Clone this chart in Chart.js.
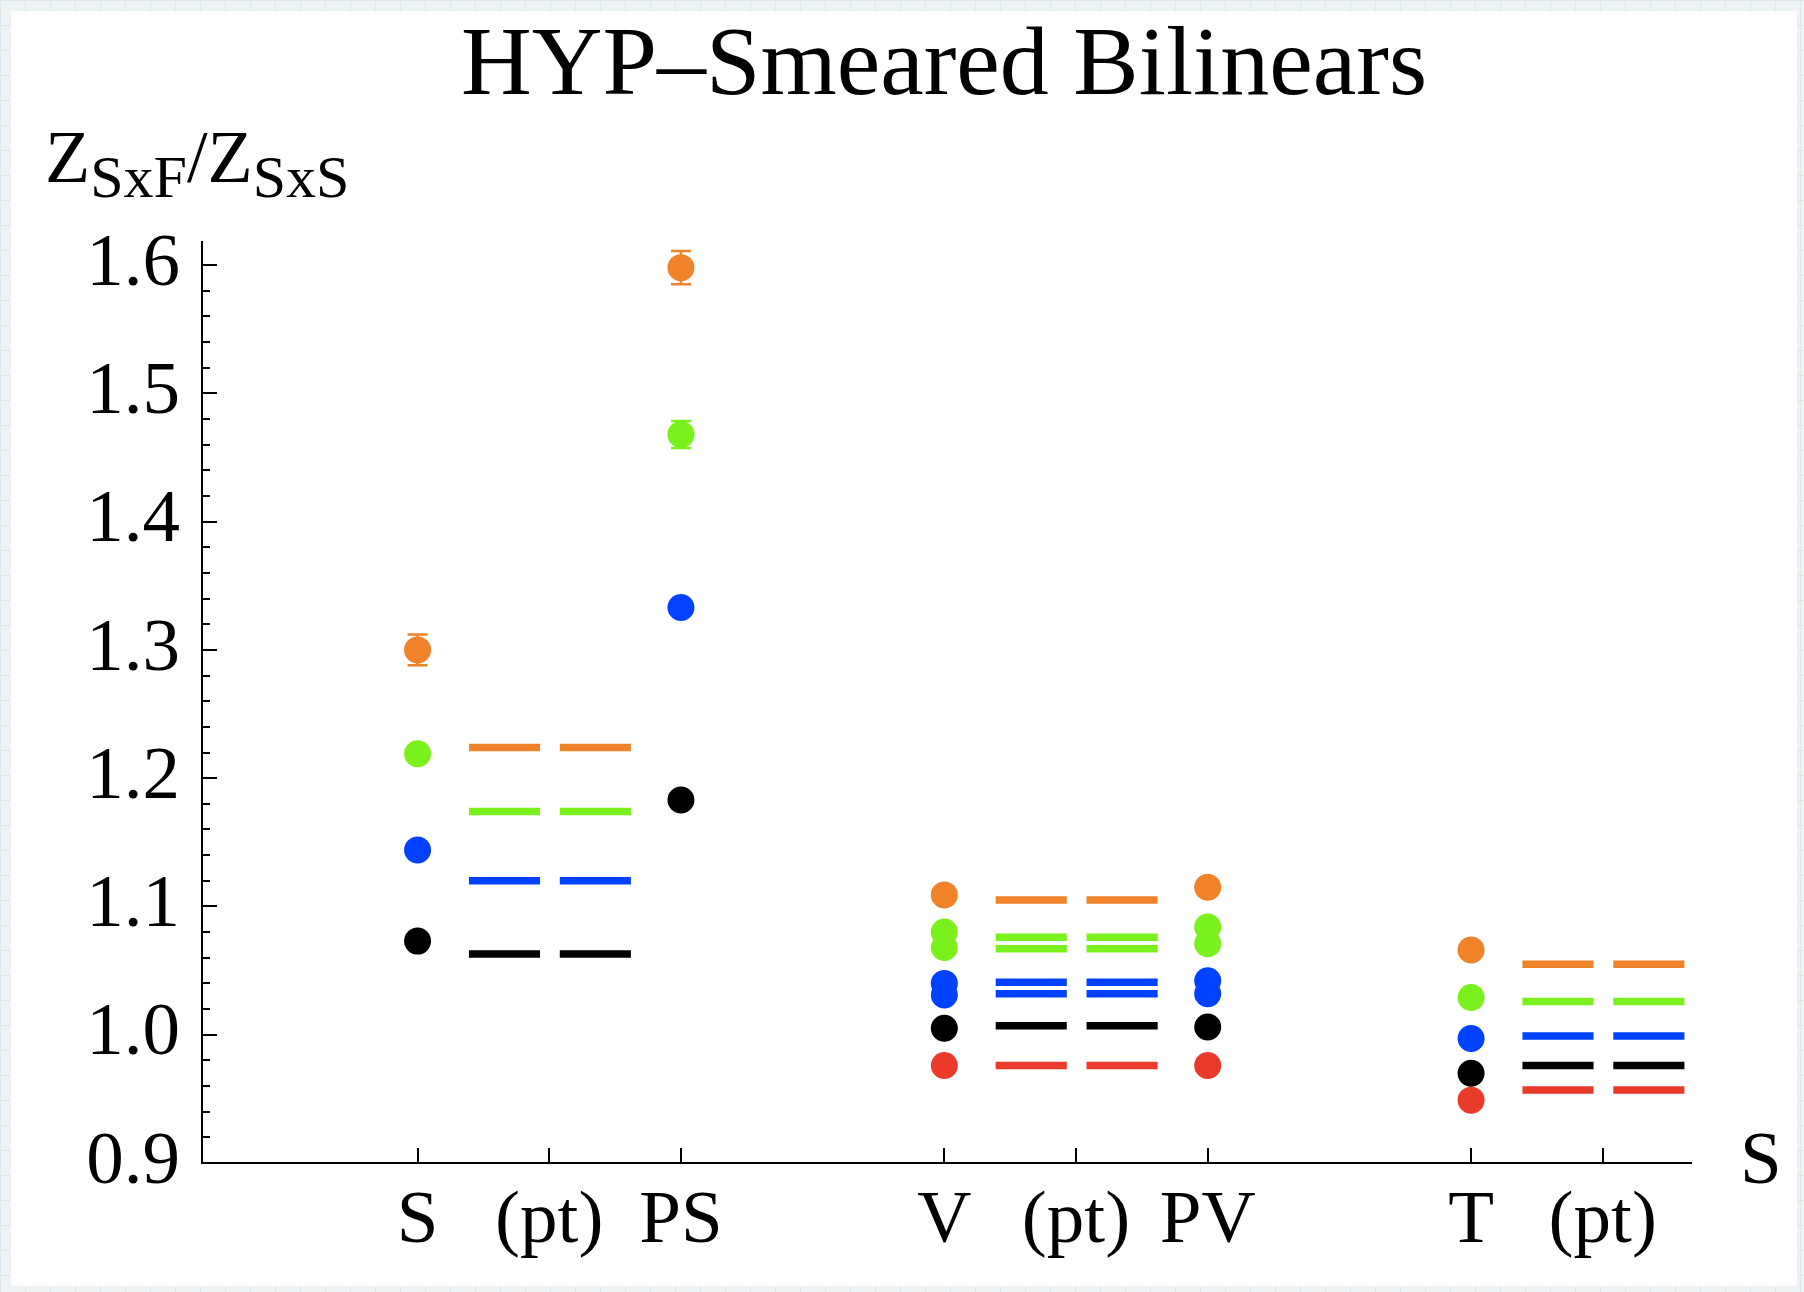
<!DOCTYPE html>
<html><head><meta charset="utf-8">
<script src="https://cdn.jsdelivr.net/npm/chart.js@4.4.1/dist/chart.umd.min.js"></script>
<style>
html,body{margin:0;padding:0;width:1804px;height:1292px;overflow:hidden;}
body{background-color:#eef3f4;background-image:linear-gradient(#dce8ec 1px,transparent 1px),linear-gradient(90deg,#dce8ec 1px,transparent 1px);background-size:25px 25px;position:relative;}
#paper{position:absolute;left:11px;top:11px;width:1786px;height:1275px;background:#fff;}
#wrap{position:absolute;left:0;top:0;width:1804px;height:1292px;}
</style></head><body>
<div id="paper"></div>
<div id="wrap"><canvas id="c" width="1804" height="1292"></canvas></div>
<script>
// ---- data ----
const categories = ['S', '(pt)', 'PS', '', 'V', '(pt)', 'PV', '', 'T', '(pt)'];
const tickPositions = [0, 1, 2, 4, 5, 6, 8, 9];
const yTickLabels = ['0.9', '1.0', '1.1', '1.2', '1.3', '1.4', '1.5', '1.6'];

// measured points (x = category index)
const orangeX = [0, 2, 4, 6, 8];
const orangeY = [1.300, 1.598, 1.109, 1.115, 1.066];
const orangeErr = [0.012, 0.013, 0, 0, 0];
const greenX = [0, 2, 4, 4, 6, 6, 8];
const greenY = [1.219, 1.468, 1.080, 1.068, 1.084, 1.071, 1.029];
const greenErr = [0, 0.0105, 0, 0, 0, 0, 0];
const blueX = [0, 2, 4, 4, 6, 6, 8];
const blueY = [1.144, 1.333, 1.040, 1.031, 1.042, 1.032, 0.997];
const blueErr = [0, 0, 0, 0, 0, 0, 0];
const blackX = [0, 2, 4, 6, 8];
const blackY = [1.073, 1.183, 1.005, 1.006, 0.970];
const blackErr = [0, 0, 0, 0, 0];
const redX = [4, 6, 8];
const redY = [0.976, 0.976, 0.949];
const redErr = [0, 0, 0];

// (pt) fit levels per group (groups start at S, V, T)
const fitGroups = [0, 4, 8];
const orangeFit = [[1.224], [1.105], [1.055]];
const greenFit = [[1.174], [1.076, 1.067], [1.026]];
const blueFit = [[1.120], [1.041, 1.032], [0.999]];
const blackFit = [[1.063], [1.007], [0.976]];
const redFit = [[], [0.976], [0.957]];

// ---- styling / geometry ----
const fitSpans = [[0.39, 0.93], [1.08, 1.62]];
const COLORS = {orange: '#F0822A', green: '#7AF01C', blue: '#0042FF', black: '#000000', red: '#EA3A2A'};
const FONT = '"Liberation Serif", "Times New Roman", serif';

function pts(xs, ys, errs) { return xs.map((x, i) => ({x: x, y: ys[i], err: errs[i]})); }
function fitData(levels) {
  const d = [];
  fitGroups.forEach((g, gi) => {
    levels[gi].forEach(v => {
      fitSpans.forEach(([a, b]) => {
        d.push({x: g + a, y: v}, {x: g + b, y: v}, {x: g + b, y: null});
      });
    });
  });
  return d;
}
function fitSet(levels, color) {
  return {data: fitData(levels), showLine: true, spanGaps: false, borderColor: color, borderWidth: 7.5,
          borderCapStyle: 'butt', pointRadius: 0, pointHoverRadius: 0, fill: false};
}
function pointSet(xs, ys, errs, color) {
  return {data: pts(xs, ys, errs), showLine: false, backgroundColor: color, borderColor: color,
          borderWidth: 0, pointRadius: 13.5, pointHoverRadius: 13.5, errColor: color};
}

const datasets = [
  fitSet(orangeFit, COLORS.orange), fitSet(greenFit, COLORS.green), fitSet(blueFit, COLORS.blue),
  fitSet(blackFit, COLORS.black), fitSet(redFit, COLORS.red),
  pointSet(orangeX, orangeY, orangeErr, COLORS.orange),
  pointSet(greenX, greenY, greenErr, COLORS.green),
  pointSet(blueX, blueY, blueErr, COLORS.blue),
  pointSet(blackX, blackY, blackErr, COLORS.black),
  pointSet(redX, redY, redErr, COLORS.red)
];

const decor = {
  id: 'decor',
  afterDatasetsDraw(chart) {
    const ctx = chart.ctx, xs = chart.scales.x, ys = chart.scales.y;
    ctx.save();
    chart.data.datasets.forEach(ds => {
      if (!ds.errColor) return;
      ctx.strokeStyle = ds.errColor; ctx.lineWidth = 2.5;
      ds.data.forEach(p => {
        if (!p.err) return;
        const px = xs.getPixelForValue(p.x);
        const y1 = ys.getPixelForValue(p.y + p.err), y2 = ys.getPixelForValue(p.y - p.err);
        ctx.beginPath();
        ctx.moveTo(px, y1); ctx.lineTo(px, y2);
        ctx.moveTo(px - 10, y1); ctx.lineTo(px + 10, y1);
        ctx.moveTo(px - 10, y2); ctx.lineTo(px + 10, y2);
        ctx.stroke();
      });
    });
    ctx.restore();
  },
  afterDraw(chart) {
    const ctx = chart.ctx, xs = chart.scales.x, ys = chart.scales.y, a = chart.chartArea;
    ctx.save();
    ctx.strokeStyle = '#000'; ctx.lineWidth = 2;
    ctx.beginPath();
    for (let k = 45; k <= 80; k++) {
      const py = Math.round(ys.getPixelForValue(k / 50));
      const len = (k % 5 === 0) ? 15 : 8;
      ctx.moveTo(a.left, py); ctx.lineTo(a.left + len, py);
    }
    tickPositions.forEach(v => {
      const px = Math.round(xs.getPixelForValue(v));
      ctx.moveTo(px, a.bottom); ctx.lineTo(px, a.bottom - 15);
    });
    ctx.stroke();

    ctx.fillStyle = '#000';
    ctx.textBaseline = 'alphabetic';
    // title
    ctx.textAlign = 'center';
    ctx.font = '98px ' + FONT;
    ctx.fillText('HYP\u2013Smeared Bilinears', 944, 94);
    // y-axis label Z_SxF / Z_SxS
    ctx.textAlign = 'left';
    const parts = [['Z', 74, 0], ['SxF', 60, 15], ['/', 74, 0], ['Z', 74, 0], ['SxS', 60, 15]];
    let cx = 45;
    parts.forEach(([t, s, dy]) => {
      ctx.font = s + 'px ' + FONT;
      ctx.fillText(t, cx, 182 + dy);
      cx += ctx.measureText(t).width;
    });
    // x-axis label at right end
    ctx.font = '75px ' + FONT;
    ctx.fillText('S', 1740, 1183);
    ctx.restore();
  }
};

new Chart(document.getElementById('c'), {
  type: 'scatter',
  data: {datasets: datasets},
  options: {
    responsive: false,
    animation: false,
    events: [],
    layout: {padding: {top: 242, right: 113, left: 0, bottom: 0}},
    plugins: {legend: {display: false}, title: {display: false}, tooltip: {enabled: false}},
    scales: {
      x: {
        type: 'linear', min: -1.637, max: 9.67,
        afterBuildTicks: s => { s.ticks = tickPositions.map(v => ({value: v})); },
        afterFit: s => { s.height = 129; },
        ticks: {callback: v => categories[v] !== undefined ? categories[v] : '', color: '#000',
                font: {family: FONT, size: 75}, padding: 14, maxRotation: 0, minRotation: 0, autoSkip: false},
        grid: {display: true, drawOnChartArea: false, drawTicks: false},
        border: {display: true, color: '#000', width: 2}
      },
      y: {
        type: 'linear', min: 0.9, max: 1.618,
        afterBuildTicks: s => { s.ticks = yTickLabels.map(t => ({value: Number(t)})); },
        afterFit: s => { s.width = 202; },
        ticks: {callback: (v, i) => yTickLabels[i], color: '#000',
                font: {family: FONT, size: 75}, padding: 22, autoSkip: false},
        grid: {display: true, drawOnChartArea: false, drawTicks: false},
        border: {display: true, color: '#000', width: 2}
      }
    }
  },
  plugins: [decor]
});
</script>
</body></html>
